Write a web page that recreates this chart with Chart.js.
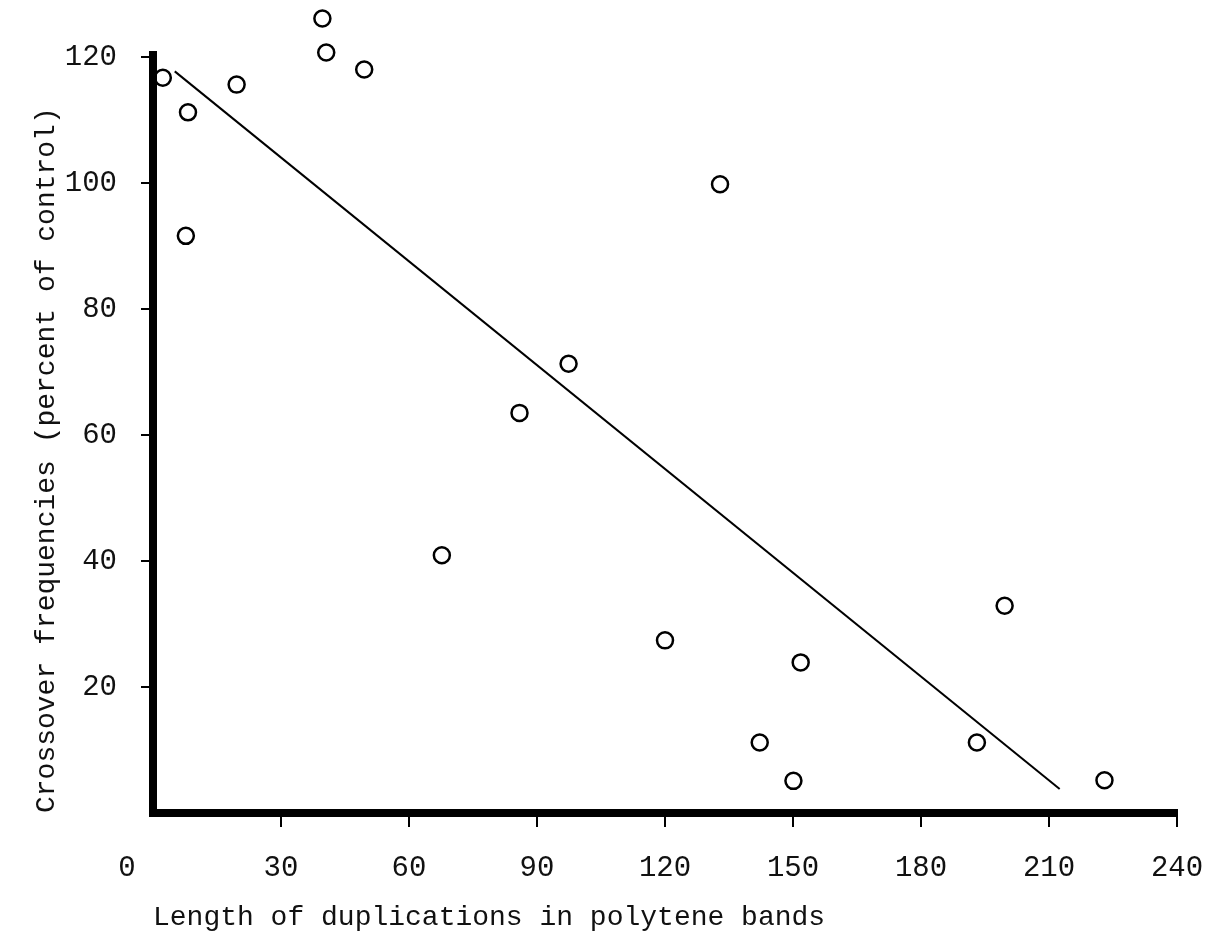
<!DOCTYPE html>
<html>
<head>
<meta charset="utf-8">
<title>Crossover frequencies vs duplication length</title>
<script src="https://cdn.jsdelivr.net/npm/chart.js@4"></script>
<style>
    html, body { margin: 0; padding: 0; background: #fff; }
    #chart { display: block; }
</style>
</head>
<body>
<canvas id="chart" width="1221" height="937"></canvas>
<script>
// Observed points: length of duplication (bands) vs crossover frequency (% of control)
const duplicationLength = [2.3, 8.2, 7.7, 19.6, 39.7, 40.6, 49.5, 67.7, 85.9, 97.4, 120.0, 132.9, 142.2, 150.1, 151.8, 193.1, 199.6, 223.0];
const crossoverFreq = [116.7, 111.2, 91.6, 115.6, 126.1, 120.7, 118.0, 40.9, 63.5, 71.3, 27.4, 99.8, 11.2, 5.1, 23.9, 11.2, 32.9, 5.2];

// Fitted line, end points as drawn
const fitX = [5.1, 212.5];
const fitY = [117.7, 3.8];

const xTicks = [0, 30, 60, 90, 120, 150, 180, 210, 240];
const yTicks = [20, 40, 60, 80, 100, 120];

const FONT = 'Liberation Mono, Courier New, monospace';
const INK = '#111';

const points = duplicationLength.map((x, i) => ({ x: x, y: crossoverFreq[i] }));
const fitLine = fitX.map((x, i) => ({ x: x, y: fitY[i] }));

// points above the top of the y axis would be skipped by the point element,
// so let the datasets draw into a taller area than the axes use
const overshootPlugin = {
    id: 'overshoot',
    beforeDatasetsDraw(chart) {
        chart.$savedTop = chart.chartArea.top;
        chart.chartArea.top -= 50;
    },
    afterDatasetsDraw(chart) {
        chart.chartArea.top = chart.$savedTop;
    }
};

const ctx = document.getElementById('chart').getContext('2d');
new Chart(ctx, {
    type: 'scatter',
    data: {
        datasets: [{
            data: points,
            pointStyle: 'circle',
            pointRadius: 8,
            pointBorderWidth: 2.5,
            pointBorderColor: '#000',
            pointBackgroundColor: 'rgba(255,255,255,0)',
            showLine: false,
            clip: false
        }, {
            type: 'line',
            data: fitLine,
            borderColor: '#000',
            borderWidth: 2,
            pointRadius: 0,
            fill: false,
            clip: false
        }]
    },
    plugins: [overshootPlugin],
    options: {
        responsive: false,
        animation: false,
        layout: { padding: { left: 0, top: 55, right: 44, bottom: 0 } },
        plugins: {
            legend: { display: false },
            tooltip: { enabled: false }
        },
        scales: {
            x: {
                type: 'linear',
                min: 0,
                max: 240,
                afterFit: (scale) => {
                    scale.height = 124;
                    scale.paddingLeft = 0;
                    scale.paddingRight = 0;
                },
                afterBuildTicks: (scale) => { scale.ticks = xTicks.map(v => ({ value: v })); },
                border: { display: true, width: 8, color: '#000' },
                grid: {
                    drawOnChartArea: false,
                    drawTicks: true,
                    tickLength: 14,
                    lineWidth: 2,
                    color: (c) => (c.tick && c.tick.value === 0) ? 'rgba(0,0,0,0)' : '#000'
                },
                ticks: {
                    padding: 24,
                    color: INK,
                    font: { family: FONT, size: 29 },
                    maxRotation: 0,
                    // the origin label sits left of the corner in the original
                    callback: (v) => v === 0 ? '0   ' : String(v)
                },
                title: {
                    display: true,
                    text: 'Length of duplications in polytene bands',
                    align: 'start',
                    color: INK,
                    font: { family: FONT, size: 28 },
                    padding: { top: 0, bottom: 3 }
                }
            },
            y: {
                type: 'linear',
                min: 0,
                max: 120.3,
                afterFit: (scale) => {
                    scale.width = 153;
                    scale.paddingTop = 0;
                    scale.paddingBottom = 0;
                },
                afterBuildTicks: (scale) => { scale.ticks = yTicks.map(v => ({ value: v })); },
                border: { display: true, width: 8, color: '#000' },
                grid: {
                    drawOnChartArea: false,
                    drawTicks: true,
                    tickLength: 12,
                    lineWidth: 2,
                    color: '#000'
                },
                ticks: {
                    padding: 24,
                    color: INK,
                    font: { family: FONT, size: 29 }
                },
                title: {
                    display: true,
                    text: 'Crossover frequencies (percent of control)',
                    align: 'start',
                    color: INK,
                    font: { family: FONT, size: 28 },
                    padding: { top: 30, bottom: 0 }
                }
            }
        }
    }
});
</script>
</body>
</html>
